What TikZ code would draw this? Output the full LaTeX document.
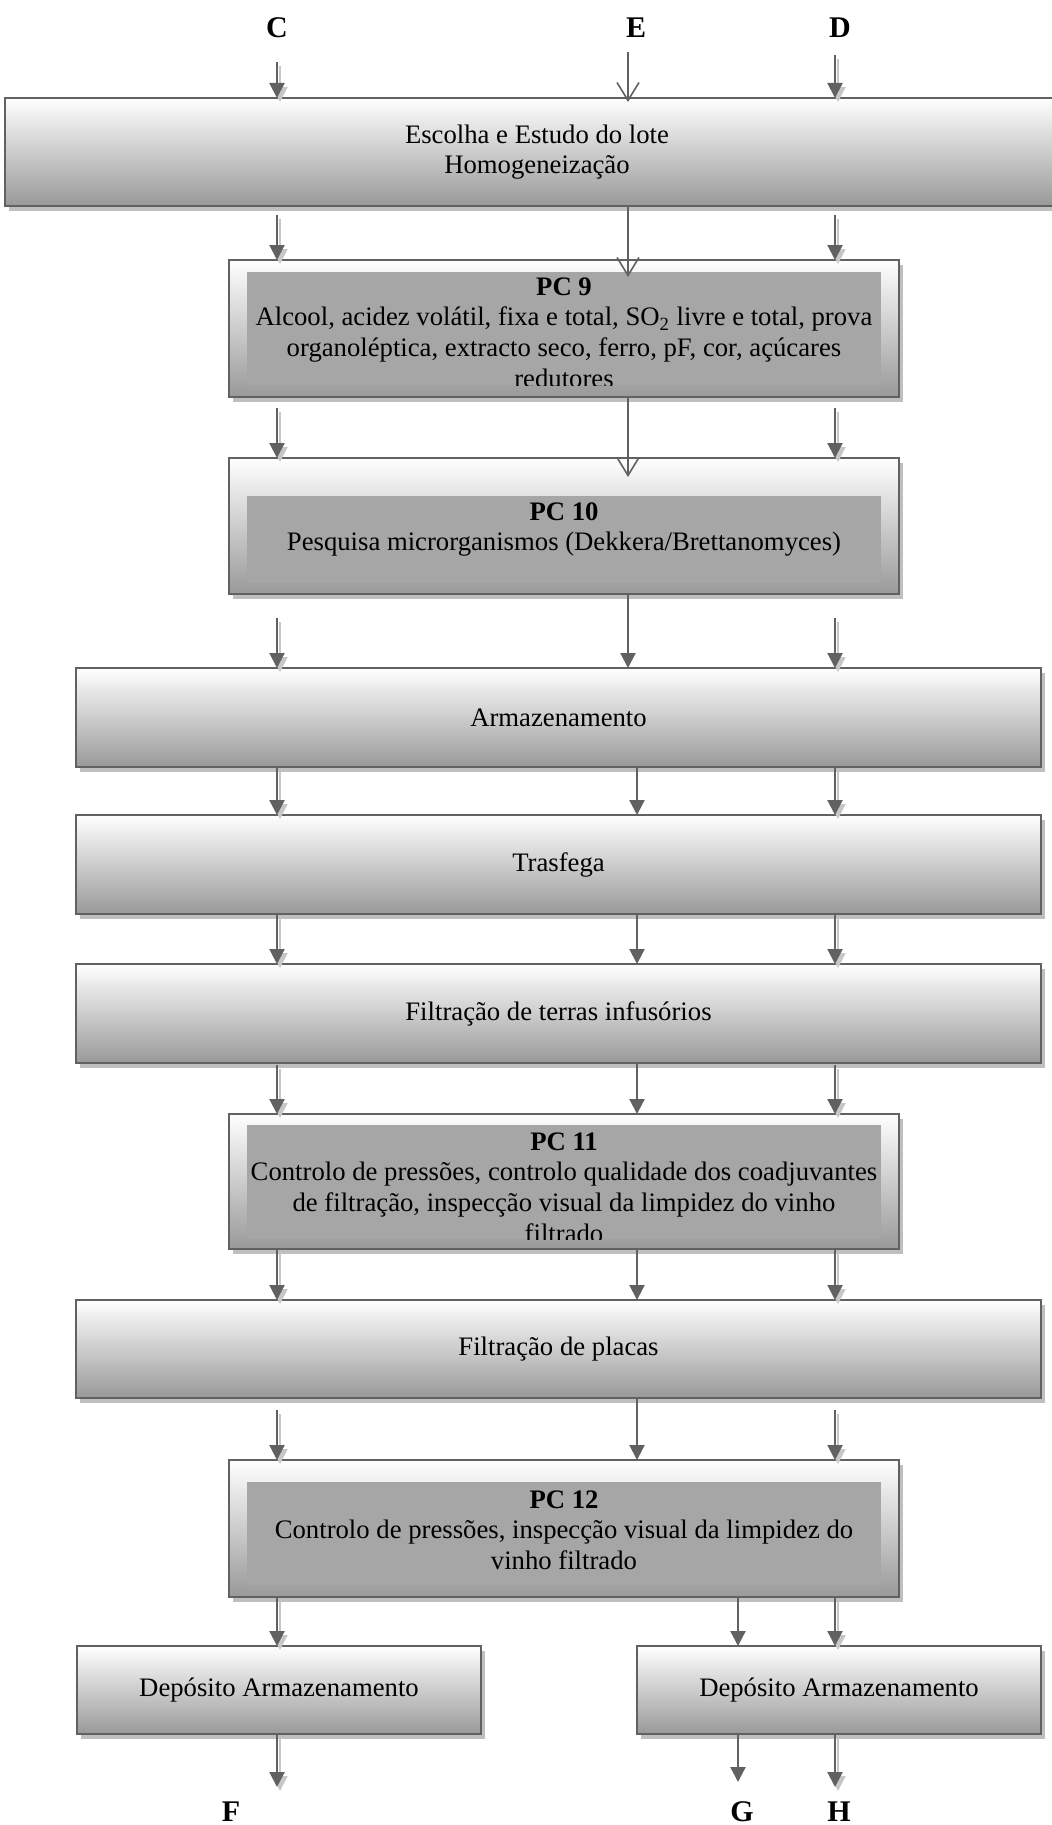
\documentclass[tikz,border=0pt]{standalone}
\usepackage{fontspec}
\setmainfont{Liberation Serif}
\usetikzlibrary{arrows.meta,shadows,calc}
\newcommand\bdfont{\fontsize{13.35}{15.35}\selectfont}
\newcommand\lblfont{\fontsize{15}{18}\selectfont\bfseries}
\begin{document}
\begin{tikzpicture}[x=0.5pt,y=-0.5pt,
  boxst/.style={draw=black!62, line width=1pt, top color=white, bottom color=black!40,
    inner sep=0pt, outer sep=0pt, align=center, font=\bdfont,
    general shadow={fill=black!25, shadow xshift=2pt, shadow yshift=-2.5pt}},
  inrect/.style={fill=black!35, draw=none, inner sep=0pt, outer sep=0pt},
  pctext/.style={anchor=base, inner sep=0pt, font=\bdfont},
  lbl/.style={inner sep=0pt, font=\lblfont},
  bw/.style={minimum width=#1},
  bh/.style={minimum height=#1},
  arr/.style={draw=black!62, line width=1.1pt, -{Triangle[length=7.5pt,width=7.5pt]}},
  arrsh/.style={draw=black!22, line width=1.1pt, -{Triangle[length=7.5pt,width=7.5pt]},
    transform canvas={xshift=1.5pt,yshift=-2pt}},
  varr/.style={draw=black!62, line width=0.8pt, -{Straight Barb[length=9pt,width=11pt]}}
]
\newcommand\sharrow[2]{\draw[arrsh] #1 -- #2; \draw[arr] #1 -- #2;}
\useasboundingbox (0,0) rectangle (1051,1825);

% column references
\coordinate (xC) at (277,0);
\coordinate (xE) at (628,0);
\coordinate (xM) at (637,0);
\coordinate (xD) at (835,0);
\coordinate (xG) at (738,0);

% top labels
\node[lbl] (lC) at (277,28) {C};
\node[lbl] (lE) at (636,28) {E};
\node[lbl] (lD) at (840,28) {D};

% boxes
\node[boxst, bw=532pt, bh=54pt] (b1) at (537,152) {Escolha e Estudo do lote\\Homogeneização};

\node[boxst, bw=335pt, bh=68.5pt] (pc9) at (564,328.5) {};
\node[inrect, bw=317pt, bh=56.5pt] (pc9i) at (564,328.5) {};

\node[boxst, bw=335pt, bh=68pt] (pc10) at (564,526) {};
\node[inrect, bw=317pt, bh=43.5pt] (pc10i) at (564,539.5) {};

\node[boxst, bw=482.5pt, bh=49.5pt] (arm) at (558.5,717.5) {Armazenamento};
\node[boxst, bw=482.5pt, bh=49.5pt] (tra) at (558.5,864.5) {Trasfega};
\node[boxst, bw=482.5pt, bh=49.5pt] (ft) at (558.5,1013.5) {Filtração de terras infusórios};

\node[boxst, bw=335pt, bh=67.5pt] (pc11) at (564,1181.5) {};
\node[inrect, bw=317pt, bh=57pt] (pc11i) at (564,1182) {};

\node[boxst, bw=482.5pt, bh=49pt] (fp) at (558.5,1349) {Filtração de placas};

\node[boxst, bw=335pt, bh=68.5pt] (pc12) at (564,1528.5) {};
\node[inrect, bw=317pt, bh=51.5pt] (pc12i) at (564,1533.5) {};

\node[boxst, bw=202pt, bh=44pt] (d1) at (279,1690) {Depósito Armazenamento};
\node[boxst, bw=202pt, bh=44pt] (d2) at (839,1690) {Depósito Armazenamento};

% texts of control points, clipped to the inner rectangles
\begin{scope}
\clip (pc9i.north west) rectangle (pc9i.south east);
\node[pctext] (pc9t) at (564,295) {\parbox[t]{450pt}{\centering\textbf{PC 9}\\Alcool, acidez volátil, fixa e total, SO\textsubscript{2} livre e total, prova\\organoléptica, extracto seco, ferro, pF, cor, açúcares\\redutores}};
\end{scope}
\begin{scope}
\clip (pc10i.north west) rectangle (pc10i.south east);
\node[pctext] (pc10t) at (564,520) {\parbox[t]{450pt}{\centering\textbf{PC 10}\\Pesquisa microrganismos (Dekkera/Brettanomyces)}};
\end{scope}
\begin{scope}
\clip (pc11i.north west) rectangle (pc11i.south east);
\node[pctext] (pc11t) at (564,1150) {\parbox[t]{450pt}{\centering\textbf{PC 11}\\Controlo de pressões, controlo qualidade dos coadjuvantes\\de filtração, inspecção visual da limpidez do vinho\\filtrado}};
\end{scope}
\begin{scope}
\clip (pc12i.north west) rectangle (pc12i.south east);
\node[pctext] (pc12t) at (564,1508) {\parbox[t]{450pt}{\centering\textbf{PC 12}\\Controlo de pressões, inspecção visual da limpidez do\\vinho filtrado}};
\end{scope}

% bottom labels
\node[lbl] (lF) at (231,1812) {F};
\node[lbl] (lG) at (742,1812) {G};
\node[lbl] (lH) at (839,1812) {H};

% free ends
\coordinate (sC) at (277,62);
\coordinate (sD) at (835,55);
\coordinate (sE) at (628,52);
\coordinate (eF) at (277,1787);
\coordinate (eG) at (738,1782);
\coordinate (eH) at (835,1787);

% connectors
\sharrow{(sC)}{(b1.north -| xC)}
\sharrow{(sD)}{(b1.north -| xD)}
\draw[varr] (sE) -- ($(b1.north -| xE)+(0,4)$);

\sharrow{($(b1.south -| xC)+(0,9)$)}{(pc9.north -| xC)}
\sharrow{($(b1.south -| xD)+(0,9)$)}{(pc9.north -| xD)}
\draw[varr] (b1.south -| xE) -- ($(pc9.north -| xE)+(0,17)$);

\sharrow{($(pc9.south -| xC)+(0,11)$)}{(pc10.north -| xC)}
\sharrow{($(pc9.south -| xD)+(0,11)$)}{(pc10.north -| xD)}
\draw[varr] (pc9.south -| xE) -- ($(pc10.north -| xE)+(0,19)$);

\sharrow{($(pc10.south -| xC)+(0,24)$)}{(arm.north -| xC)}
\sharrow{($(pc10.south -| xD)+(0,24)$)}{(arm.north -| xD)}
\draw[arr] (pc10.south -| xE) -- (arm.north -| xE);

\sharrow{(arm.south -| xC)}{(tra.north -| xC)}
\sharrow{(arm.south -| xD)}{(tra.north -| xD)}
\draw[arr] (arm.south -| xM) -- (tra.north -| xM);

\sharrow{(tra.south -| xC)}{(ft.north -| xC)}
\sharrow{(tra.south -| xD)}{(ft.north -| xD)}
\draw[arr] (tra.south -| xM) -- (ft.north -| xM);

\sharrow{($(ft.south -| xC)+(0,2)$)}{(pc11.north -| xC)}
\sharrow{($(ft.south -| xD)+(0,2)$)}{(pc11.north -| xD)}
\draw[arr] (ft.south -| xM) -- (pc11.north -| xM);

\sharrow{(pc11.south -| xC)}{(fp.north -| xC)}
\sharrow{(pc11.south -| xD)}{(fp.north -| xD)}
\draw[arr] (pc11.south -| xM) -- (fp.north -| xM);

\sharrow{($(fp.south -| xC)+(0,12)$)}{(pc12.north -| xC)}
\sharrow{($(fp.south -| xD)+(0,12)$)}{(pc12.north -| xD)}
\draw[arr] (fp.south -| xM) -- (pc12.north -| xM);

\sharrow{(pc12.south -| xC)}{(d1.north -| xC)}
\draw[arr] (pc12.south -| xG) -- (d2.north -| xG);
\sharrow{(pc12.south -| xD)}{(d2.north -| xD)}

\sharrow{(d1.south -| xC)}{(eF)}
\draw[arr] (d2.south -| xG) -- (eG);
\sharrow{(d2.south -| xD)}{(eH)}
\end{tikzpicture}
\end{document}
